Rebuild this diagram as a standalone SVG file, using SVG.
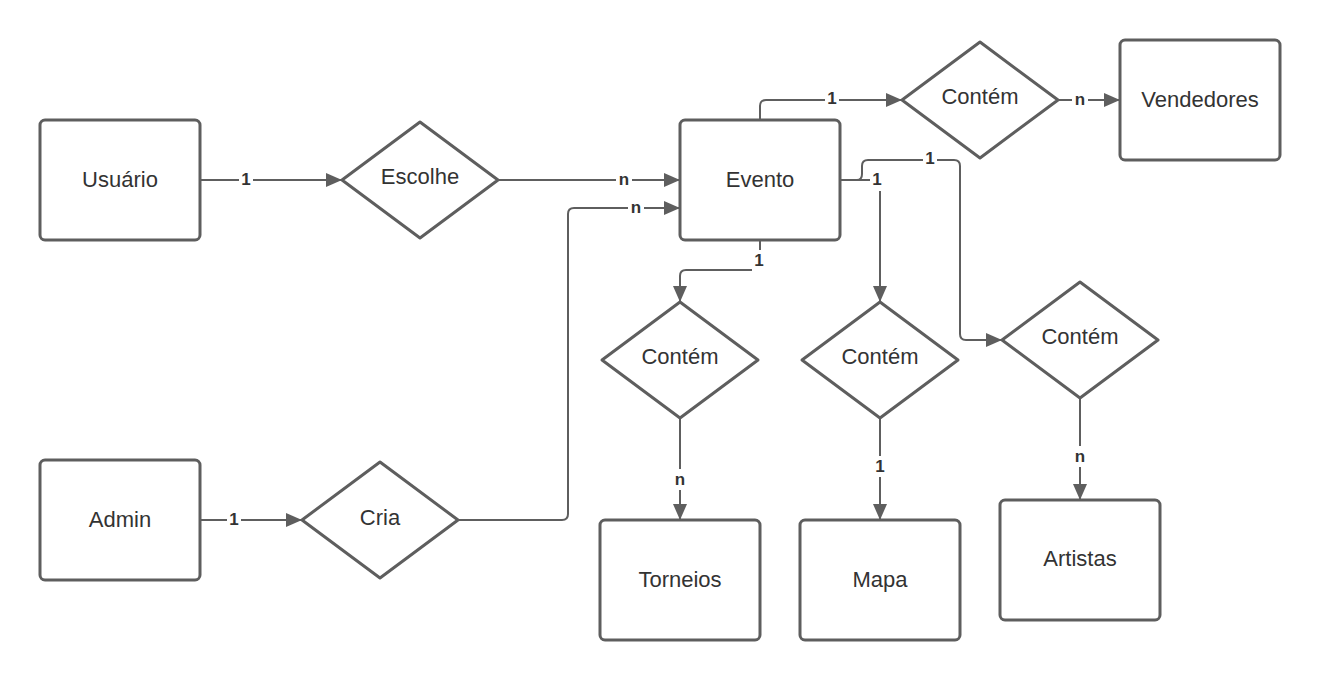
<svg xmlns="http://www.w3.org/2000/svg" width="1320" height="680" viewBox="0 0 1320 680">
<defs>
<marker id="arr" viewBox="0 0 16 14" refX="16" refY="7" markerWidth="16" markerHeight="14" markerUnits="userSpaceOnUse" orient="auto">
<path d="M0,0 L16,7 L0,14 Z" fill="#5e5e5e"/>
</marker>
<style>
.box{fill:#fff;stroke:#5e5e5e;stroke-width:3}
.dia{fill:#fff;stroke:#5e5e5e;stroke-width:3;stroke-linejoin:round}
.t{font-family:"Liberation Sans",Arial,sans-serif;font-size:22px;fill:#333;text-anchor:middle;dominant-baseline:central}
.c{fill:none;stroke:#5e5e5e;stroke-width:2;marker-end:url(#arr)}
.lb{fill:#fff}
.l{font-family:"Liberation Sans",Arial,sans-serif;font-size:17px;font-weight:bold;fill:#333;text-anchor:middle;dominant-baseline:central}
</style>
</defs>
<rect width="1320" height="680" fill="#fff"/>
<g id="connectors">
<path class="c" d="M200,180 H342"/>
<path class="c" d="M498,180 H680"/>
<path class="c" d="M200,520 H302"/>
<path class="c" d="M458,520 H562 Q568,520 568,514 V214 Q568,208 574,208 H680"/>
<path class="c" d="M760,120 V106 Q760,100 766,100 H902"/>
<path class="c" d="M1058,100 H1120"/>
<path class="c" d="M840,180 H857 Q862,180 862,174 V166 Q862,160 868,160 H954 Q960,160 960,166 V334 Q960,340 966,340 H1002"/>
<path class="c" d="M840,180 H880 V302"/>
<path class="c" d="M760,240 V270 H686 Q680,270 680,276 V302"/>
<path class="c" d="M680,418 V520"/>
<path class="c" d="M880,418 V520"/>
<path class="c" d="M1080,398 V500"/>
<g id="labels">
<rect class="lb" x="239" y="169" width="14" height="21"/><text class="l" x="246" y="179">1</text>
<rect class="lb" x="616" y="169" width="16" height="21"/><text class="l" x="624" y="179">n</text>
<rect class="lb" x="227" y="509" width="14" height="21"/><text class="l" x="234" y="519">1</text>
<rect class="lb" x="628" y="197" width="16" height="21"/><text class="l" x="636" y="207">n</text>
<rect class="lb" x="825" y="88" width="14" height="21"/><text class="l" x="832" y="98">1</text>
<rect class="lb" x="1072" y="89" width="16" height="21"/><text class="l" x="1080" y="99">n</text>
<rect class="lb" x="923" y="148" width="14" height="21"/><text class="l" x="930" y="158">1</text>
<rect class="lb" x="870" y="169" width="14" height="22"/><text class="l" x="877" y="179">1</text>
<rect class="lb" x="752" y="250" width="14" height="21"/><text class="l" x="759" y="260">1</text>
<rect class="lb" x="672" y="469" width="16" height="21"/><text class="l" x="680" y="479">n</text>
<rect class="lb" x="873" y="456" width="14" height="21"/><text class="l" x="880" y="466">1</text>
<rect class="lb" x="1072" y="446" width="16" height="21"/><text class="l" x="1080" y="456">n</text>
</g>
</g>
<g id="usuario"><rect class="box" x="40" y="120" width="160" height="120" rx="5"/><text class="t" x="120" y="179">Usuário</text></g>
<g id="evento"><rect class="box" x="680" y="120" width="160" height="120" rx="5"/><text class="t" x="760" y="179">Evento</text></g>
<g id="vendedores"><rect class="box" x="1120" y="40" width="160" height="120" rx="5"/><text class="t" x="1200" y="99">Vendedores</text></g>
<g id="admin"><rect class="box" x="40" y="460" width="160" height="120" rx="5"/><text class="t" x="120" y="519">Admin</text></g>
<g id="torneios"><rect class="box" x="600" y="520" width="160" height="120" rx="5"/><text class="t" x="680" y="579">Torneios</text></g>
<g id="mapa"><rect class="box" x="800" y="520" width="160" height="120" rx="5"/><text class="t" x="880" y="579">Mapa</text></g>
<g id="artistas"><rect class="box" x="1000" y="500" width="160" height="120" rx="5"/><text class="t" x="1080" y="558">Artistas</text></g>
<g id="escolhe"><path class="dia" d="M420,122 L498,180 L420,238 L342,180 Z"/><text class="t" x="420" y="176">Escolhe</text></g>
<g id="contem-vend"><path class="dia" d="M980,42 L1058,100 L980,158 L902,100 Z"/><text class="t" x="980" y="96">Contém</text></g>
<g id="cria"><path class="dia" d="M380,462 L458,520 L380,578 L302,520 Z"/><text class="t" x="380" y="517">Cria</text></g>
<g id="contem-torneios"><path class="dia" d="M680,302 L758,360 L680,418 L602,360 Z"/><text class="t" x="680" y="356">Contém</text></g>
<g id="contem-mapa"><path class="dia" d="M880,302 L958,360 L880,418 L802,360 Z"/><text class="t" x="880" y="356">Contém</text></g>
<g id="contem-artistas"><path class="dia" d="M1080,282 L1158,340 L1080,398 L1002,340 Z"/><text class="t" x="1080" y="336">Contém</text></g>
</svg>
